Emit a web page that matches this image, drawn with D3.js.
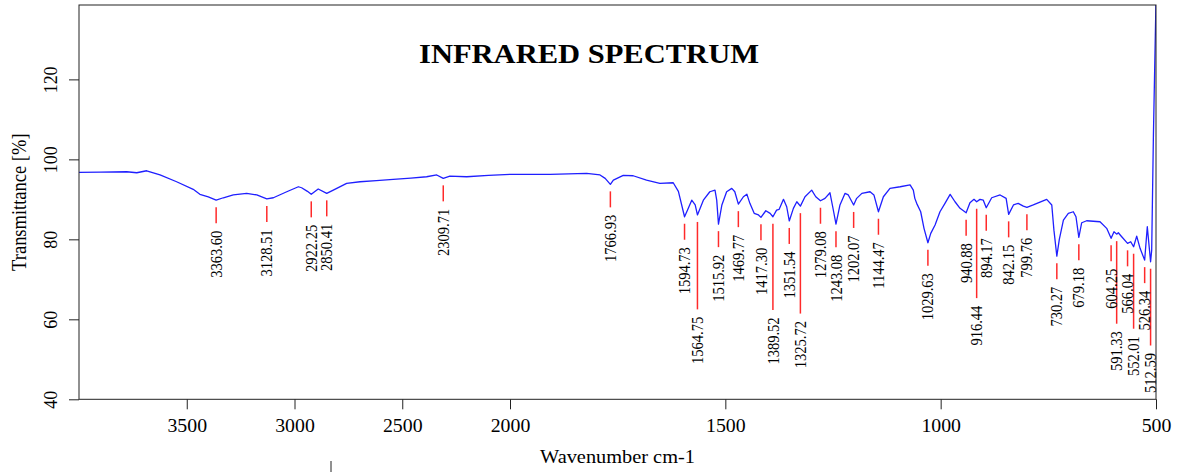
<!DOCTYPE html>
<html>
<head>
<meta charset="utf-8">
<script src="https://cdn.jsdelivr.net/npm/d3@7"></script>
<style>
  html, body { margin: 0; padding: 0; background: #fff; }
  svg { display: block; }
  text { font-family: "Liberation Serif", "Times New Roman", serif; fill: #000; }
</style>
</head>
<body>
<svg id="chart" width="1182" height="472"></svg>
<script>
// ---------- data ----------
const title = "INFRARED SPECTRUM";
const xTitle = "Wavenumber cm-1";
const yTitle = "Transmittance [%]";
const xTicks = [3500, 3000, 2500, 2000, 1500, 1000, 500];
const yTicks = [40, 60, 80, 100, 120];

const wavenumbers = [
  4000, 3900, 3779, 3732, 3686, 3624, 3547, 3470, 3439, 3400, 3363.6, 3330, 3284, 3222, 3175,
  3128.5, 3098, 3036, 2982, 2967, 2940, 2922.25, 2890, 2850.41, 2820, 2758, 2696, 2620, 2542,
  2460, 2387, 2340, 2309.71, 2279, 2201, 2100, 2000, 1907, 1822, 1791, 1779, 1766.93, 1760,
  1737, 1714, 1683, 1652, 1621, 1609, 1594.73, 1588, 1578, 1570, 1564.75, 1551, 1536, 1524,
  1520, 1515.92, 1508, 1497, 1485, 1478, 1469.77, 1458, 1450, 1443, 1433, 1423, 1417.3, 1406,
  1396, 1389.52, 1381, 1375, 1365, 1357.5, 1351.54, 1342, 1334, 1325.72, 1315, 1299.5, 1290,
  1279.08, 1268.6, 1257, 1250.7, 1243.08, 1233.8, 1222, 1214.5, 1202.07, 1195, 1183, 1164,
  1155, 1144.47, 1133, 1117.7, 1094, 1071, 1063.5, 1060, 1055.7, 1046.4, 1038.7, 1029.63,
  1023, 1013, 1001.6, 990, 978, 966.7, 955, 940.88, 932, 922.6, 916.44, 908.7, 901, 894.17,
  881.5, 862, 848, 842.15, 831, 820, 808, 799.76, 785, 753.8, 742, 737, 730.27, 724.5, 715,
  703.6, 692, 685.8, 679.18, 672.5, 661, 630, 614.5, 604.25, 597.5, 591.33, 587.5, 579.6,
  566.04, 558.7, 552.01, 544.8, 537, 526.34, 520.2, 512.59, 510, 506, 500
];
const transmittance = [
  96.75, 96.8, 96.9, 96.65, 97.15, 96.1, 94.4, 92.5, 91.25, 90.6, 89.8, 90.4, 91.1, 91.5, 91.1,
  90.1, 90.4, 91.9, 93.15, 92.9, 92.0, 91.25, 92.6, 91.5, 92.3, 94.0, 94.4, 94.7, 95.0,
  95.3, 95.65, 96.1, 95.25, 95.8, 95.65, 96.0, 96.25, 96.25, 96.5, 96.1, 95.25, 93.75, 94.8,
  96.0, 95.9, 94.8, 94.0, 94.15, 92.0, 85.65, 87.3, 89.8, 88.6, 86.1, 89.8, 91.9, 92.3,
  89.8, 83.8, 88.6, 91.9, 92.75, 91.9, 88.8, 90.65, 91.3, 89.0, 86.5, 86.1, 85.5, 87.15,
  86.5, 85.65, 87.3, 87.5, 90.0, 88.15, 84.6, 87.75, 89.4, 88.3, 90.65, 92.3, 90.65,
  89.65, 90.25, 91.65, 88.15, 83.8, 88.6, 91.5, 91.1, 88.6, 90.25, 91.5, 91.9,
  91.1, 86.9, 90.65, 92.75, 93.15, 93.6, 92.3, 90.25, 89.0, 86.9, 82.75, 79.15,
  81.5, 83.6, 86.9, 89.0, 91.25, 89.4, 87.75, 86.65, 89.15, 90.0, 89.4, 90.0, 89.8, 87.9,
  90.4, 91.1, 90.25, 86.25, 88.6, 89.0, 88.3, 88.0, 88.6, 90.0, 88.6, 82.3, 75.8, 80.0, 84.8,
  86.5, 86.9, 85.65, 80.5, 84.15, 84.65, 84.4, 82.75, 80.25, 81.9, 81.3, 81.65, 80.65,
  79.0, 79.4, 78.15, 80.8, 77.75, 74.8, 83.15, 74.4, 77.3, 106, 140
];

const peakWavenumbers = [
  3363.60, 3128.51, 2922.25, 2850.41, 2309.71, 1766.93, 1594.73, 1564.75, 1515.92, 1469.77,
  1417.30, 1389.52, 1351.54, 1325.72, 1279.08, 1243.08, 1202.07, 1144.47, 1029.63, 940.88,
  916.44, 894.17, 842.15, 799.76, 730.27, 679.18, 604.25, 591.33, 566.04, 552.01, 526.34, 512.59
];
const peakTransmittance = [
  89.8, 90.1, 91.25, 91.5, 95.25, 93.75, 85.65, 86.1, 83.8, 88.8,
  85.5, 85.65, 84.6, 88.3, 89.65, 83.8, 88.6, 86.9, 79.15, 86.65,
  89.4, 87.9, 86.25, 88.0, 75.8, 80.5, 80.25, 81.3, 79.0, 78.15, 74.8, 74.4
];
const peakLabels = peakWavenumbers.map(d => d.toFixed(2));

// ---------- layout ----------
const plotL = 79, plotR = 1156, plotT = 5, plotB = 399.3;
const svg = d3.select("#chart");

const x = d3.scaleLinear().domain([4000, 2000, 500]).range([plotL, 510, plotR]);
const y = d3.scaleLinear().domain([40, 138.6]).range([plotB, plotT]);
const SX = 1.1; // horizontal glyph stretch of the original

svg.append("defs").append("clipPath").attr("id", "plotclip")
  .append("rect").attr("x", plotL).attr("y", plotT).attr("width", plotR - plotL).attr("height", plotB - plotT);

// spectrum
const line = d3.line().x((d, i) => x(wavenumbers[i])).y(d => y(d));
svg.append("path")
  .attr("clip-path", "url(#plotclip)")
  .attr("d", line(transmittance))
  .attr("fill", "none")
  .attr("stroke", "#1f1fff")
  .attr("stroke-width", 1.3)
  .attr("stroke-linejoin", "round");

// peaks
const gap1 = 7, shortLen = 16, labelGap = 7.5, pushGap = 15, minDx = 14;
const placed = [];
const pg = svg.append("g");
peakWavenumbers.forEach((wn, i) => {
  const px = x(wn);
  const yTop = y(peakTransmittance[i]) + gap1;
  let yEnd = yTop + shortLen;
  const t = pg.append("text")
    .attr("font-size", 14.5)
    .attr("text-anchor", "end")
    .attr("dy", "0.35em")
    .text(peakLabels[i]);
  const len = t.node().getComputedTextLength();
  let changed = true;
  while (changed) {
    changed = false;
    for (const p of placed) {
      if (Math.abs(p.x - px) < minDx) {
        const s = yEnd + labelGap, e = s + len;
        if (s < p.e + 2 && e > p.s - 2 && yEnd < p.e + pushGap) {
          yEnd = p.e + pushGap;
          changed = true;
        }
      }
    }
  }
  const ls = yEnd + labelGap;
  placed.push({ x: px, s: ls, e: ls + len });
  pg.insert("line", "text")
    .attr("x1", px).attr("x2", px).attr("y1", yTop).attr("y2", yEnd)
    .attr("stroke", "#ff2a2a").attr("stroke-width", 1.5);
  t.attr("transform", `translate(${px},${ls}) scale(${SX},1) rotate(-90)`);
});

// axes
const xAxis = d3.axisBottom(x).tickValues(xTicks).tickSize(10).tickSizeOuter(0).tickPadding(10)
  .tickFormat(d3.format("d"));
const gx = svg.append("g").attr("transform", `translate(0,${plotB})`).call(xAxis);
gx.select(".domain").remove();
gx.selectAll(".tick line").attr("stroke", "#222");
gx.selectAll(".tick text")
  .attr("font-size", 18).attr("font-family", "Liberation Serif, serif").attr("fill", "#000")
  .attr("transform", `scale(${SX},1)`);

const yAxis = d3.axisLeft(y).tickValues(yTicks).tickSize(10).tickSizeOuter(0).tickFormat(d3.format("d"));
const gy = svg.append("g").attr("transform", `translate(${plotL},0)`).call(yAxis);
gy.select(".domain").remove();
gy.selectAll(".tick line").attr("stroke", "#222");
gy.selectAll(".tick text")
  .attr("x", null).attr("dy", null)
  .attr("font-size", 18).attr("font-family", "Liberation Serif, serif").attr("fill", "#000")
  .attr("text-anchor", "middle")
  .attr("transform", `translate(-22,0) scale(${SX},1) rotate(-90)`);

// frame
svg.append("rect").attr("x", plotL).attr("y", plotT).attr("width", plotR - plotL).attr("height", plotB - plotT)
  .attr("fill", "none").attr("stroke", "#222").attr("stroke-width", 1);

// titles
svg.append("text").attr("x", 589).attr("y", 63)
  .attr("text-anchor", "middle").attr("font-size", 28).attr("font-weight", "bold")
  .attr("textLength", 340).attr("lengthAdjust", "spacingAndGlyphs")
  .text(title);
svg.append("text").attr("transform", `translate(${(plotL + plotR) / 2},463) scale(${SX},1)`)
  .attr("text-anchor", "middle").attr("font-size", 18.5).text(xTitle);
svg.append("text").attr("transform", `translate(26,${(plotT + plotB) / 2}) scale(${SX},1) rotate(-90)`)
  .attr("text-anchor", "middle").attr("font-size", 18.5).text(yTitle);

// stray mark present in the original picture
svg.append("line").attr("x1", 331).attr("x2", 331).attr("y1", 461).attr("y2", 472)
  .attr("stroke", "#222").attr("stroke-width", 1);
</script>
</body>
</html>
